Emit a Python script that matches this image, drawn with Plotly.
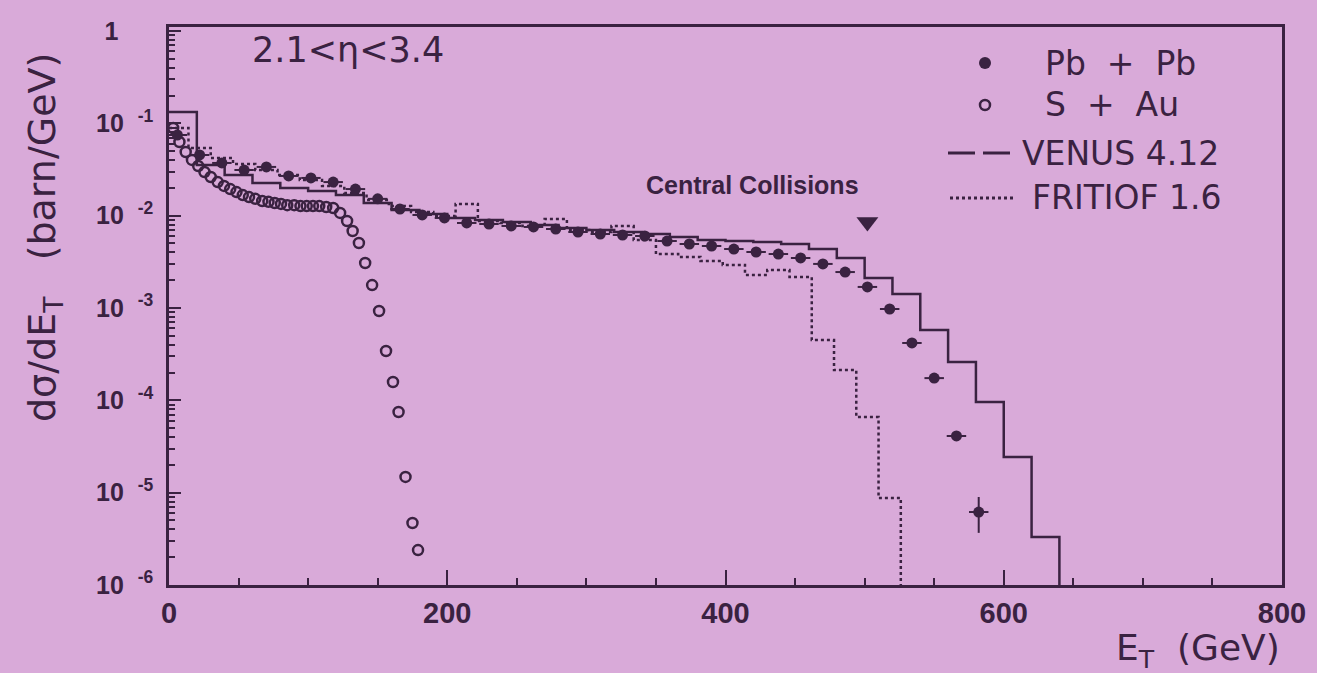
import plotly.graph_objects as go

# ---------------- data ----------------
# Pb + Pb (filled circles), E_T in GeV, dsigma/dE_T in barn/GeV
pbpb_et = [6, 22, 38, 54, 70, 86, 102, 118, 134, 150, 166, 182, 198, 214, 230,
           246, 262, 278, 294, 310, 326, 342, 358, 374, 390, 406, 422, 438, 454,
           470, 486, 502, 518, 534, 550, 566, 582]
pbpb_val = [0.0747, 0.0454, 0.0372, 0.0312, 0.0337, 0.0269, 0.0256, 0.0231,
            0.0194, 0.0152, 0.0118, 0.01017, 0.00944, 0.00833, 0.00812, 0.00773,
            0.00754, 0.00717, 0.00665, 0.00633, 0.00617, 0.00602, 0.00531,
            0.00493, 0.00469, 0.00435, 0.00404, 0.00384, 0.00348, 0.00300,
            0.00245, 0.00169, 9.75e-4, 4.18e-4, 1.74e-4, 4.11e-5, 6.17e-6]
pbpb_err_hi = [0] * 36 + [2.8e-6]
pbpb_err_lo = [0] * 36 + [2.5e-6]
pbpb_err_et = 7

# S + Au (open circles)
sau_et = [3, 7.5, 12, 16.5, 21, 25.5, 30, 35, 39.5, 44, 48.5, 53, 57.5, 62, 67,
          71.5, 76, 80.5, 85, 90, 94.5, 99, 103.5, 108, 113, 118, 123, 128, 132,
          136.5, 141, 146, 151, 156, 161, 165, 170, 175, 179]
sau_val = [0.0890, 0.0628, 0.0489, 0.0401, 0.0345, 0.0297, 0.0262, 0.0231,
           0.0210, 0.0194, 0.0180, 0.0167, 0.0159, 0.0152, 0.0144, 0.0141,
           0.0137, 0.0134, 0.0130, 0.0130, 0.0127, 0.0127, 0.0127, 0.0127,
           0.0124, 0.0121, 0.0107, 0.00876, 0.00682, 0.00506, 0.00307, 0.00177,
           9.28e-4, 3.42e-4, 1.58e-4, 7.47e-5, 1.48e-5, 4.69e-6, 2.39e-6]

# VENUS 4.12 histogram (20 GeV bins)
venus_edges = [0, 20, 40, 60, 80, 100, 120, 140, 160, 180, 200, 220, 240, 260,
               280, 300, 320, 340, 360, 380, 400, 420, 440, 460, 480, 500, 520,
               540, 560, 580, 600, 620, 640]
venus_val = [0.1327, 0.0354, 0.0276, 0.0226, 0.0199, 0.0185, 0.0167, 0.0137,
             0.0115, 0.01042, 0.00944, 0.00897, 0.00854, 0.00792, 0.00735,
             0.00699, 0.00665, 0.00633, 0.00587, 0.00545, 0.00531, 0.00518,
             0.00493, 0.00435, 0.00348, 0.00211, 0.00142, 5.78e-4, 2.60e-4,
             9.59e-5, 2.43e-5, 3.31e-6]

# FRITIOF 1.6 histogram (16 GeV bins)
frit_edges = [0, 14, 30, 46, 62, 78, 94, 110, 126, 142, 158, 174, 190, 206, 222,
              238, 254, 270, 286, 302, 318, 334, 350, 366, 382, 398, 414, 430,
              446, 462, 478, 494, 510, 526]
frit_val = [0.0890, 0.0540, 0.0421, 0.0363, 0.0312, 0.0276, 0.0243, 0.0210,
            0.0176, 0.0148, 0.0127, 0.01096, 0.00992, 0.0134, 0.00876, 0.00833,
            0.00773, 0.00920, 0.00699, 0.00665, 0.00773, 0.00545, 0.00384,
            0.00357, 0.00323, 0.00292, 0.00228, 0.00258, 0.00217, 4.50e-4,
            2.13e-4, 6.60e-5, 8.75e-6]

# "Central Collisions" marker
central_et = [502]
central_val = [0.00854]

x_tickvals = [0, 200, 400, 600, 800]
y_tickvals = [1e-6, 1e-5, 1e-4, 1e-3, 1e-2, 1e-1, 1]
y_ticktext = ["10\u00a0\u00a0<sup>-6</sup>", "10\u00a0\u00a0<sup>-5</sup>", "10\u00a0\u00a0<sup>-4</sup>",
              "10\u00a0\u00a0<sup>-3</sup>", "10\u00a0\u00a0<sup>-2</sup>", "10\u00a0\u00a0<sup>-1</sup>",
              "1\u00a0\u00a0\u00a0\u00a0\u00a0"]
y_minor = [m * 10.0 ** k for k in range(-6, 0) for m in range(2, 10)]

# ---------------- style ----------------
INK = "#3a2241"
BG = "#d9aad9"
W, H = 1317, 673
L, R, T, B = 169, 1282, 27, 585  # plot frame in pixels


def fx(p):
    return (p - L) / (R - L)


def fy(p):
    return (B - p) / (B - T)


def hist_xy(edges, vals):
    xs = list(edges[:-1]) + [edges[-1], edges[-1]]
    ys = list(vals) + [vals[-1], 1e-9]
    return xs, ys


fig = go.Figure()

vx, vy = hist_xy(venus_edges, venus_val)
fig.add_trace(go.Scatter(x=vx, y=vy, mode="lines", line_shape="hv",
                         line=dict(color=INK, width=2.5), name="VENUS 4.12"))

fx_, fy_ = hist_xy(frit_edges, frit_val)
fig.add_trace(go.Scatter(x=fx_, y=fy_, mode="lines", line_shape="hv",
                         line=dict(color=INK, width=2.5, dash="dot"), name="FRITIOF 1.6"))

fig.add_trace(go.Scatter(x=sau_et, y=sau_val, mode="markers", name="S + Au",
                         marker=dict(symbol="circle-open", size=10, color=INK,
                                     line=dict(width=2.5, color=INK))))

fig.add_trace(go.Scatter(x=pbpb_et, y=pbpb_val, mode="markers", name="Pb + Pb",
                         marker=dict(symbol="circle", size=11, color=INK),
                         error_x=dict(type="constant", value=pbpb_err_et, color=INK,
                                      thickness=2, width=0),
                         error_y=dict(type="data", array=pbpb_err_hi,
                                      arrayminus=pbpb_err_lo, color=INK,
                                      thickness=2, width=0)))

fig.add_trace(go.Scatter(x=central_et, y=central_val, mode="markers",
                         marker=dict(symbol="triangle-down", size=19, color=INK),
                         name="Central Collisions"))

font_txt = "DejaVu Sans"
ann = []
ann.append(dict(text="2.1&lt;η&lt;3.4", x=fx(250), y=fy(50), xanchor="left",
                yanchor="middle", font=dict(family=font_txt, size=35, color=INK)))
ann.append(dict(text="Central Collisions", x=fx(752), y=fy(185), xanchor="center",
                yanchor="middle", font=dict(family="Liberation Sans", size=25,
                                            color=INK, weight="bold")))
leg = [("Pb\u00a0\u00a0+\u00a0\u00a0Pb", 1043, 63), ("S\u00a0\u00a0+\u00a0\u00a0Au", 1043, 105),
       ("VENUS 4.12", 1020, 153), ("FRITIOF 1.6", 1030, 197)]
for t, xp, yp in leg:
    ann.append(dict(text=t, x=fx(xp), y=fy(yp), xanchor="left", yanchor="middle",
                    font=dict(family=font_txt, size=33, color=INK)))
ann.append(dict(text="E<sub>T</sub>\u00a0\u00a0(GeV)", x=fx(1282), y=fy(650),
                xanchor="right", yanchor="middle",
                font=dict(family=font_txt, size=36, color=INK)))
ann.append(dict(text="dσ/dE<sub>T</sub>\u00a0\u00a0\u00a0(barn/GeV)", x=fx(45), y=fy(238),
                textangle=-90, xanchor="center", yanchor="middle",
                font=dict(family=font_txt, size=38, color=INK)))
for a in ann:
    a.update(xref="paper", yref="paper", showarrow=False)

shapes = [
    dict(type="circle", xref="paper", yref="paper", x0=fx(979), x1=fx(991),
         y0=fy(69), y1=fy(57), fillcolor=INK, line=dict(width=0)),
    dict(type="circle", xref="paper", yref="paper", x0=fx(980), x1=fx(990),
         y0=fy(110), y1=fy(100), line=dict(color=INK, width=2.5)),
    dict(type="line", xref="paper", yref="paper", x0=fx(948), x1=fx(975),
         y0=fy(153), y1=fy(153), line=dict(color=INK, width=3)),
    dict(type="line", xref="paper", yref="paper", x0=fx(983), x1=fx(1010),
         y0=fy(153), y1=fy(153), line=dict(color=INK, width=3)),
    dict(type="line", xref="paper", yref="paper", x0=fx(950), x1=fx(1015),
         y0=fy(198), y1=fy(198), line=dict(color=INK, width=3, dash="dot")),
]

fig.update_layout(
    width=W, height=H,
    margin=dict(l=L, r=W - R, t=T, b=H - B, pad=0),
    paper_bgcolor=BG, plot_bgcolor=BG,
    showlegend=False,
    annotations=ann, shapes=shapes,
    xaxis=dict(range=[0, 800], tickvals=x_tickvals, ticks="inside", ticklen=15,
               tickwidth=2, tickcolor=INK, showline=True, linewidth=2.5,
               linecolor=INK, mirror=True, showgrid=False, zeroline=False,
               ticklabelstandoff=0,
               tickfont=dict(family="Liberation Sans", size=29, color=INK, weight="bold"),
               minor=dict(dtick=50, ticks="inside", ticklen=7, tickwidth=2,
                          tickcolor=INK, showgrid=False)),
    yaxis=dict(type="log", range=[-6, 0.043], tickvals=y_tickvals, ticktext=y_ticktext,
               ticks="inside", ticklen=12, tickwidth=2, tickcolor=INK,
               showline=True, linewidth=2.5, linecolor=INK, mirror=True,
               showgrid=False, zeroline=False, ticklabelstandoff=8,
               tickfont=dict(family="Liberation Sans", size=25, color=INK, weight="bold"),
               minor=dict(tickvals=y_minor, ticks="inside", ticklen=6, tickwidth=1.5,
                          tickcolor=INK, showgrid=False)),
)

fig.write_html("out.html", config={"displayModeBar": False},
               post_script="document.body.style.margin='0px';")
